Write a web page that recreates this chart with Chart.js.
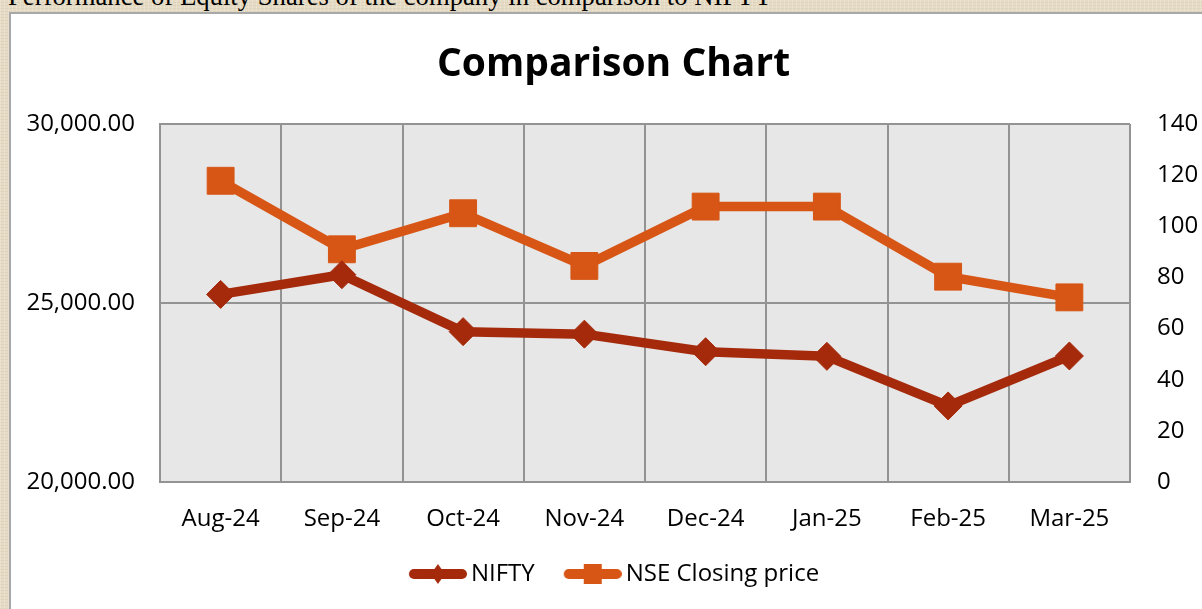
<!DOCTYPE html>
<html>
<head>
<meta charset="utf-8">
<title>Comparison Chart</title>
<script src="https://cdn.jsdelivr.net/npm/chart.js@4.4.1/dist/chart.umd.min.js"></script>
<style>
    html, body {
        margin: 0;
        padding: 0;
        width: 1202px;
        height: 609px;
        overflow: hidden;
        background-color: #e6dcc5;
        background-image:
            repeating-linear-gradient(90deg, rgba(255,255,255,0.18) 0px, rgba(255,255,255,0.18) 1px, transparent 1px, transparent 4px),
            repeating-linear-gradient(0deg, rgba(150,130,100,0.10) 0px, rgba(150,130,100,0.10) 1px, transparent 1px, transparent 3px);
    }
    .caption {
        position: absolute;
        left: 8px;
        top: -17px;
        font-family: "Liberation Serif", "Times New Roman", serif;
        font-size: 26.7px;
        line-height: 26px;
        color: #000;
        white-space: nowrap;
    }
    .panel {
        position: absolute;
        left: 9px;
        top: 12px;
        width: 1200px;
        height: 610px;
        background: #fff;
        border: 2px solid #a8a8a8;
    }
    .chart-box {
        position: absolute;
        left: 0;
        top: 0;
        width: 1191px;
        height: 595px;
    }
</style>
</head>
<body>
<div class="caption">Performance of Equity Shares of the company in comparison to NIFTY</div>
<div class="panel">
    <div class="chart-box"><canvas id="comparisonChart"></canvas></div>
</div>

<script>
// Data dibaca dari gambar referensi
var months = ['Aug-24', 'Sep-24', 'Oct-24', 'Nov-24', 'Dec-24', 'Jan-25', 'Feb-25', 'Mar-25'];
var niftyValues = [25240, 25790, 24200, 24130, 23640, 23510, 22125, 23520];
var nseClosing = [117.8, 91.0, 105.1, 84.5, 107.7, 107.7, 80.3, 72.2];

// Skala sumbu kiri (NIFTY) dan kanan (harga penutupan NSE)
var leftAxis = { min: 20000, max: 30000, step: 5000 };
var rightAxis = { min: 0, max: 140, step: 20 };

var NIFTY_COLOR = '#a52a0c';
var NSE_COLOR = '#d75615';
var GRID_COLOR = '#939393';
var FONT = '"Open Sans", "Noto Sans", sans-serif';

// Ikon legenda: garis tebal + marker di tengah (seperti legenda Excel)
// margin kiri transparen dipakai untuk mengatur jarak antar item
var ICON_MARGIN = 9;
function makeLegendIcon(color, shape) {
    const c = document.createElement('canvas');
    c.width = 58 + ICON_MARGIN;
    c.height = 24;
    const g = c.getContext('2d');
    g.translate(ICON_MARGIN, 0);
    g.strokeStyle = color;
    g.fillStyle = color;
    g.lineWidth = 10;
    g.lineCap = 'round';
    g.beginPath();
    g.moveTo(5, 12);
    g.lineTo(53, 12);
    g.stroke();
    g.beginPath();
    if (shape === 'diamond') {
        g.moveTo(29, 2);
        g.lineTo(36, 12);
        g.lineTo(29, 22);
        g.lineTo(22, 12);
    } else {
        g.rect(20, 2, 18, 20);
    }
    g.closePath();
    g.fill();
    return c;
}

// Latar abu-abu untuk area plot
var plotBackground = {
    id: 'plotBackground',
    beforeDraw(chart) {
        const a = chart.chartArea;
        const ctx = chart.ctx;
        ctx.save();
        ctx.fillStyle = '#e7e7e7';
        ctx.fillRect(a.left, a.top, a.right - a.left, a.bottom - a.top);
        ctx.restore();
    }
};

var legendIcons = [makeLegendIcon(NIFTY_COLOR, 'diamond'), makeLegendIcon(NSE_COLOR, 'square')];

var ctx = document.getElementById('comparisonChart').getContext('2d');
var comparisonChart = new Chart(ctx, {
    type: 'line',
    data: {
        labels: months,
        datasets: [
            {
                label: 'NIFTY',
                data: niftyValues,
                yAxisID: 'y',
                borderColor: NIFTY_COLOR,
                backgroundColor: NIFTY_COLOR,
                borderWidth: 9.5,
                borderJoinStyle: 'round',
                borderCapStyle: 'round',
                tension: 0,
                pointStyle: 'rectRot',
                pointRadius: 14,
                pointHoverRadius: 14,
                pointBorderWidth: 1
            },
            {
                label: 'NSE Closing price',
                data: nseClosing,
                yAxisID: 'y1',
                borderColor: NSE_COLOR,
                backgroundColor: NSE_COLOR,
                borderWidth: 9.5,
                borderJoinStyle: 'round',
                borderCapStyle: 'round',
                tension: 0,
                pointStyle: 'rect',
                pointRadius: 19,
                pointHoverRadius: 19,
                pointBorderWidth: 1
            }
        ]
    },
    plugins: [plotBackground],
    options: {
        responsive: true,
        maintainAspectRatio: false,
        animation: false,
        layout: { padding: { left: 14, right: 0, top: 0, bottom: 13 } },
        plugins: {
            title: {
                display: true,
                text: 'Comparison Chart',
                color: '#000',
                font: { family: FONT, size: 39, weight: 'bold' },
                padding: { top: 27, bottom: 36.2 }
            },
            legend: {
                position: 'bottom',
                labels: {
                    color: '#000',
                    font: { family: FONT, size: 24 },
                    usePointStyle: true,
                    pointStyleWidth: 58 + ICON_MARGIN - 16,
                    padding: 28,
                    generateLabels: function(chart) {
                        return chart.data.datasets.map((ds, i) => ({
                            text: ds.label,
                            fontColor: '#000',
                            pointStyle: legendIcons[i],
                            datasetIndex: i,
                            hidden: false,
                            lineWidth: 0
                        }));
                    }
                }
            },
            tooltip: { enabled: false }
        },
        scales: {
            x: {
                offset: true,
                grid: { offset: true, color: GRID_COLOR, lineWidth: 2, drawTicks: false },
                border: { color: GRID_COLOR, width: 2 },
                ticks: { color: '#000', font: { family: FONT, size: 24 }, padding: 23, maxRotation: 0 },
                afterFit: function(axis) { axis.height = 52; }
            },
            y: {
                position: 'left',
                min: leftAxis.min,
                max: leftAxis.max,
                grid: { color: GRID_COLOR, lineWidth: 2, drawTicks: false },
                border: { color: GRID_COLOR, width: 2 },
                ticks: {
                    stepSize: leftAxis.step,
                    color: '#000',
                    font: { family: FONT, size: 24 },
                    padding: 25,
                    callback: v => v.toLocaleString('en-US', { minimumFractionDigits: 2, maximumFractionDigits: 2 })
                },
                afterFit: function(axis) { axis.width = 135; }
            },
            y1: {
                position: 'right',
                min: rightAxis.min,
                max: rightAxis.max,
                grid: { drawOnChartArea: false, drawTicks: false },
                border: { display: false },
                ticks: {
                    stepSize: rightAxis.step,
                    color: '#000',
                    font: { family: FONT, size: 24 },
                    padding: 27
                },
                afterFit: function(axis) { axis.width = 72; }
            }
        }
    }
});
</script>
</body>
</html>
